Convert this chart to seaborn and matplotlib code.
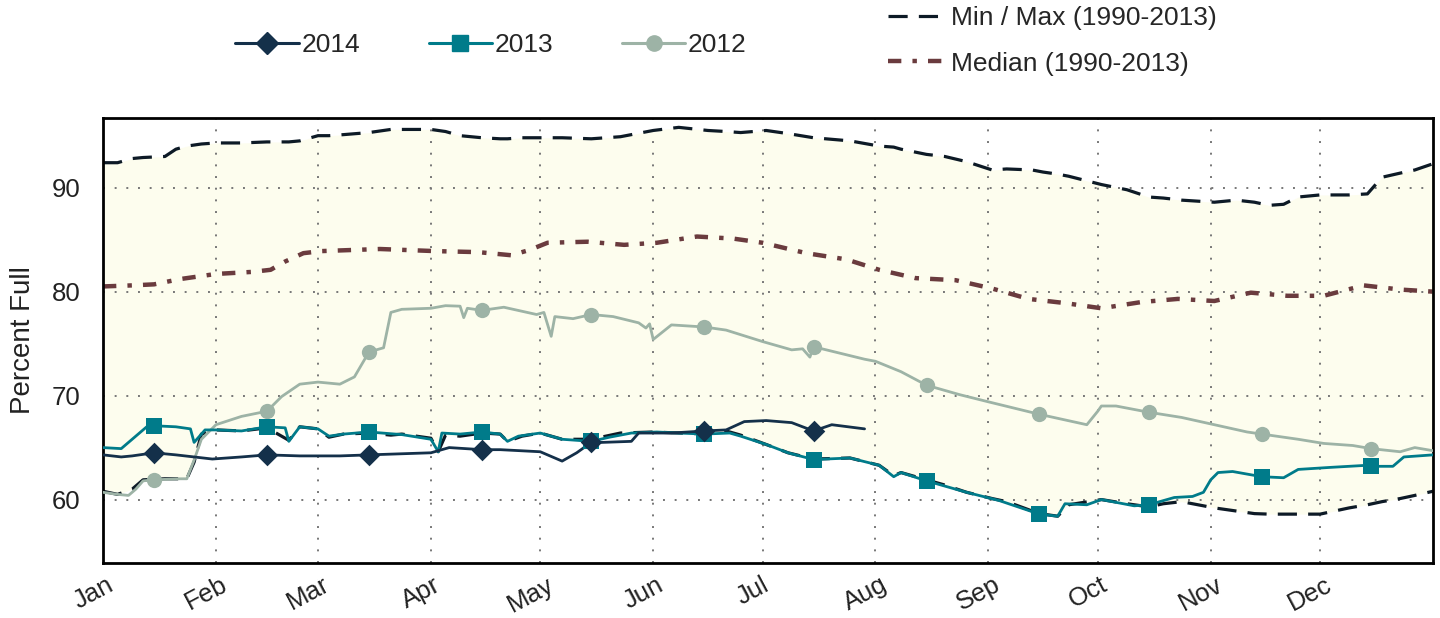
import numpy as np
import pandas as pd
import seaborn as sns
import matplotlib.pyplot as plt
import matplotlib.transforms as mtransforms
from matplotlib.lines import Line2D

# Month axis
month_labels = ["Jan", "Feb", "Mar", "Apr", "May", "Jun", "Jul", "Aug", "Sep", "Oct", "Nov", "Dec"]
month_starts = [0, 31, 59, 90, 120, 151, 181, 212, 243, 273, 304, 334]
mid_days = [14, 45, 73, 104, 134, 165, 195, 226, 257, 287, 318, 348]

# Min / Max envelope (1990-2013)
env_day = [0, 4, 8, 11, 17, 20, 23, 25, 27, 31, 38, 45, 51, 54, 59, 62, 66, 73, 79, 82,
           90, 92, 94, 98, 104, 109, 111, 115, 120, 126, 134, 142, 151, 158, 166, 171, 175,
           182, 188, 195, 205, 213, 217, 219, 226, 231, 237, 244, 248, 255, 258, 262, 265,
           274, 281, 287, 291, 296, 305, 311, 316, 320, 324, 328, 334, 342, 347, 351, 356,
           360, 365]
env_max = [92.4, 92.4, 92.8, 92.9, 93.0, 93.7, 94.0, 94.1, 94.2, 94.3, 94.3, 94.4, 94.4, 94.5,
           95.0, 95.0, 95.1, 95.3, 95.6, 95.6, 95.6, 95.5, 95.4, 95.0, 94.8, 94.7, 94.7, 94.8,
           94.8, 94.8, 94.7, 94.9, 95.5, 95.8, 95.5, 95.4, 95.3, 95.5, 95.2, 94.8, 94.5, 94.0,
           93.9, 93.7, 93.2, 93.0, 92.5, 91.7, 91.8, 91.7, 91.5, 91.3, 91.1, 90.3, 89.8, 89.1,
           89.0, 88.8, 88.6, 88.8, 88.6, 88.3, 88.4, 89.1, 89.3, 89.3, 89.4, 91.0, 91.4, 91.7,
           92.3]
env_min = [60.8, 60.5, 61.0, 61.9, 62.0, 62.0, 62.0, 63.6, 66.3, 66.7, 66.6, 66.9, 65.7, 67.0,
           66.8, 66.0, 66.3, 66.4, 66.2, 66.3, 65.9, 64.6, 66.2, 66.1, 66.4, 66.3, 65.6, 66.1,
           66.4, 65.8, 65.8, 66.4, 66.5, 66.4, 66.3, 66.6, 66.2, 65.3, 64.5, 63.9, 64.0, 63.3,
           62.3, 62.6, 61.9, 61.4, 60.7, 60.1, 59.8, 58.9, 58.6, 58.4, 59.5, 60.0, 59.6, 59.3,
           59.6, 59.8, 59.2, 58.9, 58.65, 58.6, 58.6, 58.6, 58.6, 59.2, 59.5, 59.8, 60.1, 60.4,
           60.8]

# Median (1990-2013)
med_day = [0, 8, 14, 21, 31, 41, 46, 50, 55, 60, 76, 91, 103, 112, 117, 122, 133, 143, 152,
           163, 173, 181, 193, 204, 213, 223, 234, 244, 254, 264, 274, 285, 295, 305, 315,
           325, 335, 346, 356, 365]
med_val = [80.5, 80.6, 80.7, 81.2, 81.7, 81.9, 82.1, 82.9, 83.7, 83.9, 84.1, 83.9, 83.8, 83.5,
           84.0, 84.7, 84.8, 84.5, 84.7, 85.3, 85.1, 84.7, 83.7, 83.1, 82.1, 81.3, 81.1, 80.3,
           79.3, 78.9, 78.4, 79.0, 79.3, 79.1, 79.9, 79.6, 79.6, 80.6, 80.2, 80.0]

# 2012
day2012 = [0, 4, 7, 9, 11, 14, 21, 23, 25, 27, 31, 38, 45, 49, 54, 59, 65, 69, 73, 77, 79,
           82, 90, 94, 98, 99, 100, 104, 110, 119, 121, 123, 124, 129, 134, 140, 147, 149,
           150, 151, 156, 165, 171, 181, 189, 192, 194, 195, 209, 212, 219, 226, 235, 243,
           257, 270, 273, 274, 278, 287, 296, 305, 314, 318, 328, 335, 343, 348, 356, 360, 365]
val2012 = [60.7, 60.5, 60.4, 61.0, 61.8, 61.9, 62.0, 62.0, 63.8, 65.8, 67.2, 68.0, 68.5, 69.9,
           71.1, 71.3, 71.1, 71.8, 74.2, 74.6, 78.0, 78.3, 78.4, 78.65, 78.6, 77.5, 78.4, 78.2,
           78.5, 77.8, 78.0, 75.7, 77.6, 77.4, 77.8, 77.6, 77.0, 76.5, 76.9, 75.4, 76.8, 76.6,
           76.3, 75.2, 74.4, 74.5, 73.7, 74.7, 73.5, 73.3, 72.3, 71.0, 70.1, 69.4, 68.2, 67.2,
           68.5, 69.0, 69.0, 68.4, 67.9, 67.2, 66.5, 66.3, 65.8, 65.4, 65.2, 64.9, 64.6, 65.0,
           64.7]

# 2013
day2013 = [0, 5, 8, 12, 14, 20, 24, 25, 28, 31, 38, 45, 50, 51, 54, 59, 62, 66, 73, 82, 90,
           92, 93, 98, 104, 109, 111, 114, 120, 126, 134, 139, 145, 152, 158, 165, 172, 175,
           182, 188, 195, 205, 213, 217, 219, 226, 237, 246, 257, 262, 264, 270, 274, 283,
           287, 294, 299, 302, 304, 306, 310, 318, 324, 328, 337, 347, 348, 354, 357, 365]
val2013 = [65.0, 64.9, 65.8, 67.0, 67.1, 67.0, 66.8, 65.5, 66.7, 66.7, 66.6, 67.0, 66.9, 65.6,
           67.0, 66.8, 66.1, 66.3, 66.5, 66.25, 65.8, 64.6, 66.4, 66.3, 66.5, 66.3, 65.6, 66.1,
           66.4, 65.8, 65.6, 66.0, 66.4, 66.5, 66.4, 66.3, 66.4, 66.1, 65.3, 64.5, 63.85, 64.0,
           63.3, 62.2, 62.6, 61.8, 60.7, 59.9, 58.6, 58.4, 59.6, 59.5, 60.0, 59.4, 59.5, 60.2,
           60.3, 60.7, 61.9, 62.6, 62.7, 62.2, 62.1, 62.9, 63.1, 63.3, 63.2, 63.2, 64.1, 64.3]

# 2014
day2014 = [0, 5, 8, 14, 20, 30, 38, 45, 54, 65, 73, 90, 95, 104, 109, 120, 126, 130, 134, 137,
           145, 147, 156, 165, 171, 176, 182, 189, 195, 200, 209]
val2014 = [64.3, 64.1, 64.2, 64.5, 64.3, 63.9, 64.1, 64.3, 64.2, 64.2, 64.3, 64.5, 65.0, 64.8,
           64.8, 64.6, 63.7, 64.5, 65.5, 65.5, 65.6, 66.4, 66.4, 66.6, 66.7, 67.5, 67.6, 67.4,
           66.6, 67.2, 66.8]

c2014, c2013, c2012 = "#14304a", "#007b8a", "#9db3a6"
c_env, c_med, c_fill = "#0d1a26", "#6a3b3e", "#fdfdee"

sns.set_theme(style="white")
plt.rcParams["font.family"] = ["Liberation Sans", "DejaVu Sans"]

fig = plt.figure(figsize=(14.4, 6.18), dpi=100)
ax = fig.add_axes([103 / 1440, 1 - 563 / 618, 1330 / 1440, 445 / 618])

ax.fill_between(env_day, env_min, env_max, color=c_fill, lw=0, zorder=0.5)

sns.lineplot(x=env_day, y=env_max, ax=ax, color=c_env, lw=2.3, zorder=2)
sns.lineplot(x=env_day, y=env_min, ax=ax, color=c_env, lw=2.3, zorder=2)
for l in ax.lines:
    l.set_dashes((6, 3.5))
sns.lineplot(x=med_day, y=med_val, ax=ax, color=c_med, lw=3.2, zorder=2)
ax.lines[-1].set_dashes((3, 2.5, 1, 2.5))

series = [
    (day2012, val2012, c2012, "o", 11),
    (day2013, val2013, c2013, "s", 11),
    (day2014, val2014, c2014, "D", 11),
]
for days, vals, col, mk, ms in series:
    sns.lineplot(x=days, y=vals, ax=ax, color=col, lw=2, zorder=3)
    d = pd.DataFrame({"day": days, "val": vals})
    d = d[d["day"].isin(mid_days)]
    sns.scatterplot(data=d, x="day", y="val", ax=ax, color=col, marker=mk,
                    s=ms ** 2, linewidth=0, zorder=4)

ax.set_xlim(0, 365)
ax.set_ylim(53.9, 96.7)
ax.set_xticks(month_starts)
ax.set_xticklabels(month_labels, rotation=28, ha="center")
ax.set_yticks([60, 70, 80, 90])
ax.tick_params(axis="both", length=0, labelsize=18.5, colors="#222222")
ax.tick_params(axis="x", pad=7)
ax.tick_params(axis="y", pad=16)
offset = mtransforms.ScaledTranslation(-7 / 72, 0, fig.dpi_scale_trans)
for lab in ax.get_xticklabels():
    lab.set_transform(lab.get_transform() + offset)

ax.grid(True, color="#777777", lw=1.4, linestyle=(0, (1, 5)))
for s in ax.spines.values():
    s.set_color("black")
    s.set_linewidth(2)

ax.set_xlabel("")
ax.set_ylabel("Percent Full", fontsize=20, color="#222222")
ax.yaxis.set_label_coords(-0.05, 0.5)

h_years = [
    Line2D([], [], color=c2014, lw=2.2, marker="D", markersize=11),
    Line2D([], [], color=c2013, lw=2.2, marker="s", markersize=11),
    Line2D([], [], color=c2012, lw=2.2, marker="o", markersize=11),
]
leg1 = fig.legend(h_years, ["2014", "2013", "2012"], loc="center",
                  bbox_to_anchor=(491 / 1440, 1 - 45 / 618), ncol=3, frameon=False,
                  fontsize=19, handlelength=2.4, handletextpad=0.1, columnspacing=2.6)

h_env = Line2D([], [], color=c_env, lw=2.3, dashes=(6, 3.5))
h_med = Line2D([], [], color=c_med, lw=3.2, dashes=(3, 2.5, 1, 2.5))
leg2 = fig.legend([h_env, h_med], ["Min / Max (1990-2013)", "Median (1990-2013)"],
                  loc="center left", bbox_to_anchor=(888 / 1440, 1 - 41 / 618),
                  frameon=False, fontsize=19, handlelength=2.2, handletextpad=0.2,
                  labelspacing=0.8, borderpad=0, borderaxespad=0)

fig.savefig("out.png", dpi=100)
